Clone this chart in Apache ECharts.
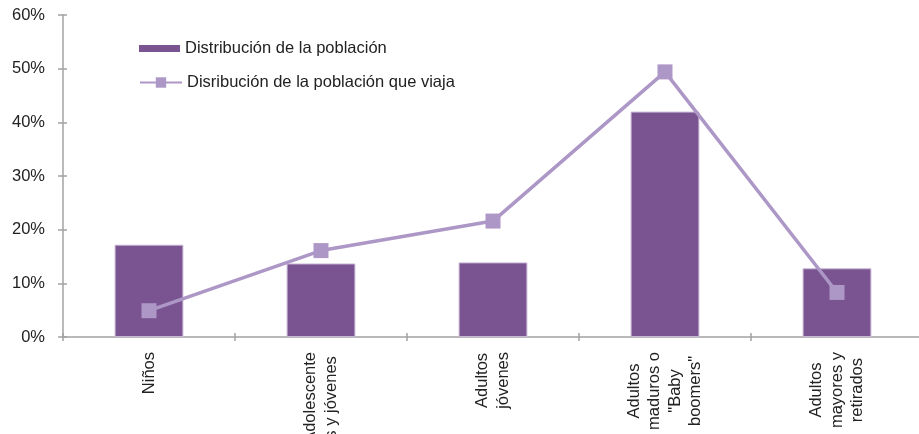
<!DOCTYPE html>
<html>
<head>
<meta charset="utf-8">
<script src="https://cdn.jsdelivr.net/npm/echarts@6/dist/echarts.min.js"></script>
<style>
  html, body { margin: 0; padding: 0; background: #ffffff; }
  #chart { width: 919px; height: 434px; }
</style>
</head>
<body>
<div id="chart"></div>
<script>
// Age groups (line breaks as shown on the axis)
const categories = [
  'Niños',
  'Adolescente\ns y jóvenes',
  'Adultos\njóvenes',
  'Adultos\nmaduros o\n"Baby\nboomers"',
  'Adultos\nmayores y\nretirados'
];
const seriesNames = ['Distribución de la población', 'Disribución de la población que viaja'];
// Share of total population per group (fraction)
const poblacion = [0.172, 0.137, 0.139, 0.420, 0.128];
// Share of travelling population per group (fraction)
const poblacionViaja = [0.049, 0.161, 0.216, 0.494, 0.083];
// Y axis scale
const yMin = 0, yMax = 0.6, yStep = 0.1;

const FONT = 'Liberation Sans, Arial, sans-serif';
const FS = 16.5;
const TEXT = '#222222';
const AXIS = '#a3a3a3';
const BAR = '#7a5490';
const LINE = '#ad97c6';

const chart = echarts.init(document.getElementById('chart'), null, { renderer: 'canvas' });

const pct = v => Math.round(v * 100) + '%';

chart.setOption({
  animation: false,
  textStyle: { fontFamily: FONT },
  grid: { left: 63, right: -4, top: 15, bottom: 97, containLabel: false, outerBoundsMode: 'none' },
  legend: [
    {
      data: [{ name: seriesNames[0], icon: 'rect', itemStyle: { borderWidth: 0 } }],
      left: 139, top: 40, padding: 0,
      itemWidth: 41, itemHeight: 7,
      textStyle: { fontSize: FS, color: TEXT, fontFamily: FONT }
    },
    {
      data: [seriesNames[1]],
      left: 139, top: 74, padding: 0,
      itemWidth: 42, itemHeight: 13,
      textStyle: { fontSize: FS, color: TEXT, fontFamily: FONT }
    }
  ],
  xAxis: [
    {
      type: 'category',
      data: categories,
      axisLine: { lineStyle: { color: AXIS, width: 1.5 } },
      axisTick: { show: true, length: 4, lineStyle: { color: AXIS, width: 1.5 } },
      axisLabel: {
        rotate: 90,
        margin: 15,
        interval: 0,
        formatter: v => v.split('\n').map(s => '{c|' + s + '}').join('\n'),
        rich: {
          c: { align: 'center', fontSize: FS, lineHeight: 20.5, color: TEXT, fontFamily: FONT }
        }
      },
      splitLine: { show: false }
    },
    {
      type: 'category',
      data: categories,
      position: 'bottom',
      axisLine: { show: false },
      axisTick: { show: true, inside: true, length: 4, lineStyle: { color: AXIS, width: 1.5 } },
      axisLabel: { show: false },
      splitLine: { show: false }
    }
  ],
  yAxis: [
    {
      type: 'value',
      min: yMin, max: yMax, interval: yStep,
      axisLine: { show: true, lineStyle: { color: AXIS, width: 1.5 } },
      axisTick: { show: true, length: 5, lineStyle: { color: AXIS, width: 1.5 } },
      axisLabel: { formatter: pct, fontSize: FS, color: TEXT, margin: 18, fontFamily: FONT },
      splitLine: { show: false }
    },
    {
      type: 'value',
      position: 'left',
      min: yMin, max: yMax, interval: yStep,
      axisLine: { show: false },
      axisTick: { show: true, inside: true, length: 4, lineStyle: { color: AXIS, width: 1.5 } },
      axisLabel: { show: false },
      splitLine: { show: false }
    }
  ],
  series: [
    {
      name: seriesNames[0],
      type: 'bar',
      data: poblacion,
      barWidth: '40%',
      itemStyle: { color: BAR, borderColor: '#c9b7d6', borderWidth: 1 },
      z: 2
    },
    {
      name: seriesNames[1],
      type: 'line',
      data: poblacionViaja,
      symbol: 'rect',
      symbolSize: 15,
      lineStyle: { color: LINE, width: 3.5 },
      itemStyle: { color: LINE },
      z: 3
    }
  ]
});
</script>
</body>
</html>
